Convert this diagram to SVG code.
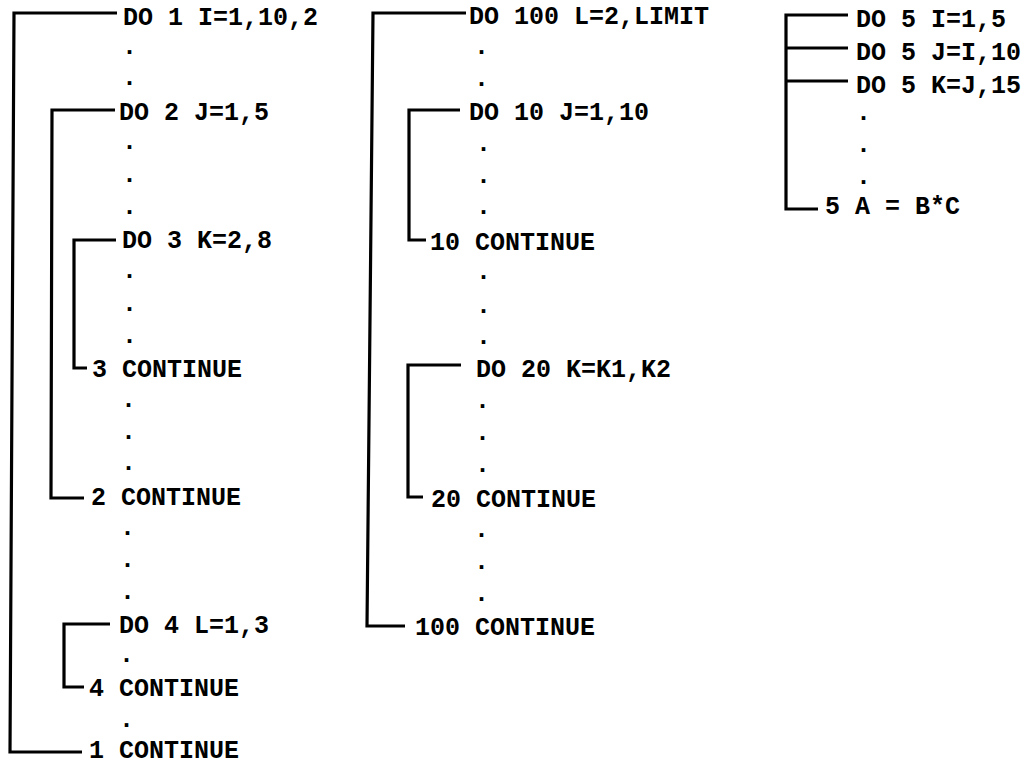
<svg xmlns="http://www.w3.org/2000/svg" width="1031" height="765" viewBox="0 0 1031 765">
<style>
text{font-family:"Liberation Mono","DejaVu Sans Mono",monospace;font-size:25px;font-weight:bold;fill:#000;}
.c{fill:none;stroke:#000;stroke-width:3.2;stroke-linejoin:miter;}
</style>
<rect width="1031" height="765" fill="#fff"/>
<g id="connectors">
<path class="c" d="M117 13 H14 L10 752 H82"/>
<path class="c" d="M115 110 H52 L51 498 H84"/>
<path class="c" d="M116 240 H74 V368 H87"/>
<path class="c" d="M110 624 H64 V687 H84"/>
<path class="c" d="M466 13 H373 L367 626 H405"/>
<path class="c" d="M460 110 H409 V240 H426"/>
<path class="c" d="M461 365 H408 V497 H423"/>
<path class="c" d="M848 15 H786 V209 H818"/>
<path class="c" d="M786 48 H848"/>
<path class="c" d="M786 81 H848"/>
</g>
<g id="loop1">
<text x="123" y="25">DO 1 I=1,10,2</text>
<text x="122" y="54">.</text>
<text x="122" y="85">.</text>
<text x="119" y="120">DO 2 J=1,5</text>
<text x="122" y="149">.</text>
<text x="122" y="182">.</text>
<text x="122" y="214">.</text>
<text x="122" y="248">DO 3 K=2,8</text>
<text x="122" y="278">.</text>
<text x="122" y="311">.</text>
<text x="122" y="343">.</text>
<text x="92" y="377">3 CONTINUE</text>
<text x="121" y="407">.</text>
<text x="121" y="439">.</text>
<text x="121" y="470">.</text>
<text x="91" y="505">2 CONTINUE</text>
<text x="120" y="535">.</text>
<text x="120" y="567">.</text>
<text x="120" y="599">.</text>
<text x="119" y="633">DO 4 L=1,3</text>
<text x="119" y="662">.</text>
<text x="89" y="696">4 CONTINUE</text>
<text x="119" y="727">.</text>
<text x="89" y="758">1 CONTINUE</text>
</g>
<g id="loop100">
<text x="469" y="24">DO 100 L=2,LIMIT</text>
<text x="474" y="54">.</text>
<text x="474" y="86">.</text>
<text x="469" y="120">DO 10 J=1,10</text>
<text x="476" y="151">.</text>
<text x="476" y="183">.</text>
<text x="476" y="214">.</text>
<text x="430" y="250">10 CONTINUE</text>
<text x="476" y="279">.</text>
<text x="476" y="313">.</text>
<text x="476" y="344">.</text>
<text x="476" y="377">DO 20 K=K1,K2</text>
<text x="475" y="408">.</text>
<text x="475" y="440">.</text>
<text x="475" y="472">.</text>
<text x="431" y="507">20 CONTINUE</text>
<text x="474" y="537">.</text>
<text x="474" y="569">.</text>
<text x="474" y="601">.</text>
<text x="415" y="635">100 CONTINUE</text>
</g>
<g id="loop5">
<text x="856" y="27">DO 5 I=1,5</text>
<text x="856" y="60">DO 5 J=I,10</text>
<text x="856" y="93">DO 5 K=J,15</text>
<text x="856" y="120">.</text>
<text x="856" y="152">.</text>
<text x="856" y="184">.</text>
<text x="825" y="214">5 A = B*C</text>
</g>
</svg>
